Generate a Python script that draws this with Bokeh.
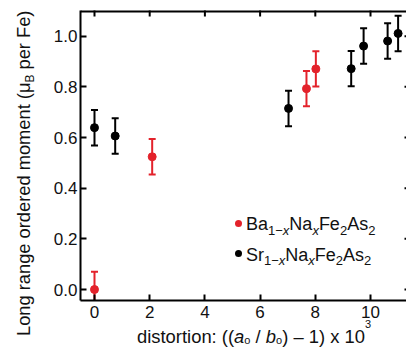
import math
from bokeh.plotting import figure
from bokeh.layouts import column
from bokeh.models import Range1d, FixedTicker, Span, Div
from bokeh.embed import file_html
from bokeh.resources import INLINE

# ---------------- data ----------------
ba_x = [0.0, 2.09, 7.68, 8.02]
ba_y = [0.0, 0.524, 0.793, 0.871]
ba_err = [0.07, 0.07, 0.07, 0.07]

sr_x = [0.0, 0.75, 7.03, 9.30, 9.75, 10.62, 11.0]
sr_y = [0.639, 0.606, 0.715, 0.872, 0.961, 0.981, 1.011]
sr_err = [0.07, 0.07, 0.07, 0.07, 0.07, 0.07, 0.07]

x_ticks = [0, 2, 4, 6, 8, 10]
x_tick_labels = ["0", "2", "4", "6", "8", "10"]
y_ticks = [0.0, 0.2, 0.4, 0.6, 0.8, 1.0]
y_tick_labels = ["0.0", "0.2", "0.4", "0.6", "0.8", "1.0"]

X0, X1 = -0.507, 11.304
Y0, Y1 = -0.0434, 1.1015

RED = "#e3222b"
BLACK = "#000000"
TXT = "#111111"
FONT = "Liberation Sans"

# ---------------- layout ----------------
W, H = 406, 347
BL, BR, BT, BB = 80, 0, 10, 47

p = figure(width=W, height=H, x_range=Range1d(X0, X1), y_range=Range1d(Y0, Y1),
           output_backend="svg", toolbar_location=None,
           min_border_left=BL, min_border_right=BR, min_border_top=BT, min_border_bottom=BB)
p.grid.visible = False
p.outline_line_color = None
p.background_fill_color = "white"
p.border_fill_color = "white"

for ax, ticks, labels, standoff in ((p.xaxis[0], x_ticks, x_tick_labels, 5),
                                    (p.yaxis[0], y_ticks, y_tick_labels, 3)):
    ax.ticker = FixedTicker(ticks=ticks)
    ax.major_label_overrides = dict(zip(ticks, labels))
    ax.axis_line_width = 2
    ax.axis_line_color = BLACK
    ax.major_tick_line_width = 2
    ax.major_tick_line_color = BLACK
    ax.major_tick_in = 6
    ax.major_tick_out = 0
    ax.minor_tick_line_color = None
    ax.axis_label = None
    ax.major_label_text_font = FONT
    ax.major_label_text_font_size = "17px"
    ax.major_label_text_color = TXT
    ax.major_label_standoff = standoff

# top frame line and the inward ticks on the top and right edges
p.add_layout(Span(location=Y1, dimension="width", line_color=BLACK, line_width=4))
p.scatter(x_ticks, [Y1] * len(x_ticks), marker="dash", angle=math.pi / 2, size=12,
          line_color=BLACK, line_width=2)
p.scatter([X1] * len(y_ticks), y_ticks, marker="dash", size=4, line_color=BLACK, line_width=2)

# ---------------- error bars and points ----------------
def err_bars(xs, ys, es, color, lw):
    lo = [y - e for y, e in zip(ys, es)]
    hi = [y + e for y, e in zip(ys, es)]
    p.segment(x0=xs, y0=lo, x1=xs, y1=hi, line_color=color, line_width=lw)
    p.scatter(xs, lo, marker="dash", size=7, line_color=color, line_width=lw)
    p.scatter(xs, hi, marker="dash", size=7, line_color=color, line_width=lw)

err_bars(sr_x, sr_y, sr_err, BLACK, 2)
err_bars(ba_x, ba_y, ba_err, RED, 2)
p.scatter(sr_x, sr_y, size=8, fill_color=BLACK, line_color=BLACK)
p.scatter(ba_x, ba_y, size=8, fill_color=RED, line_color=RED)

# ---------------- rich text overlay (titles and legend with sub/superscripts) ----------------
ASC = 0.8465  # baseline offset (em) inside a line box with line-height equal to font size

def sub(t, size, shift):
    return (f'<span style="font-size:{size}px;line-height:{size}px;position:relative;'
            f'top:{shift}px">{t}</span>')

def block(html, left, baseline, size, rotate=False):
    style = (f"position:absolute;left:{left:.2f}px;white-space:nowrap;"
             f"font-family:'{FONT}';font-size:{size}px;line-height:{size}px;color:{TXT};")
    if rotate:
        # text runs upward from (left, baseline-start); baseline sits at left + ASC*size
        style += f"top:{baseline:.2f}px;transform-origin:0 0;transform:rotate(-90deg);"
    else:
        style += f"top:{baseline - ASC * size:.2f}px;"
    return f'<div style="{style}">{html}</div>'

def dot(cx, cy, color, d=7):
    return (f'<div style="position:absolute;left:{cx - d / 2:.2f}px;top:{cy - d / 2:.2f}px;'
            f'width:{d}px;height:{d}px;border-radius:50%;background:{color};"></div>')

x_title = ("distortion: ((<i>a</i>" + sub("o", 11, 1.2) + " / <i>b</i>" + sub("o", 11, 1.2)
           + ") – 1) x 10" + sub("3", 11, -14.5))
y_title = "Long range ordered moment (μ" + sub("B", 12, 3.5) + " per Fe)"

def formula(cation):
    return (cation + sub("1−<i>x</i>", 13, 4.3) + "Na" + sub("<i>x</i>", 13, 4.3)
            + "Fe" + sub("2", 13, 4.3) + "As" + sub("2", 13, 4.3))

overlay_html = (
    '<div style="position:absolute;left:0;top:0;width:406px;height:347px;overflow:hidden;">'
    + block(x_title, 137, 343.5, 18.4)
    + block(y_title, 30 - ASC * 18.3, 336, 18.3, rotate=True)
    + dot(238.3, 223.3, RED) + block(formula("Ba"), 246, 230.7, 18)
    + dot(238.3, 253.4, BLACK) + block(formula("Sr"), 246, 260.9, 18)
    + "</div>"
)

overlay = Div(text=overlay_html, width=W, height=H, margin=0,
              styles={"position": "absolute", "left": "0px", "top": "0px",
                      "pointer-events": "none", "z-index": "10"})

page = column(p, overlay, spacing=0)

open("out.html", "w").write(file_html(page, INLINE))
